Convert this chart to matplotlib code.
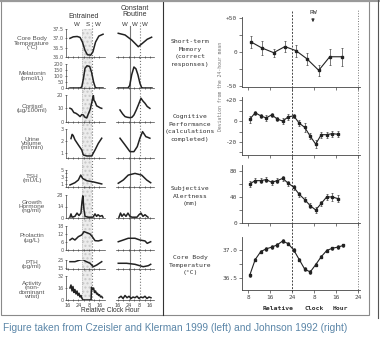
import numpy as np
import matplotlib.pyplot as plt
from matplotlib.patches import Rectangle
from matplotlib.lines import Line2D

W, H = 380, 344

# ── Left: Czeisler & Klerman 1999 (hours relative clock) ─────────
cbt_ent_h = [17.5, 20, 23, 25.2, 27, 29, 30.8, 33.3, 35, 37, 39.5, 42.7]
cbt_ent_v = [37.0, 37.08, 37.1, 37.05, 36.8, 36.35, 36.12, 36.1, 36.28, 36.8, 37.12, 37.22]
cbt_cr_h = [16.2, 21.3, 26.3, 31.3, 35, 38, 41.3]
cbt_cr_v = [37.27, 37.18, 36.91, 36.55, 36.77, 36.95, 37.06]

mel_ent_h = [17.5, 25, 26.5, 27.8, 29, 30.5, 32.5, 34, 35.5, 36.8, 38, 42.7]
mel_ent_v = [0, 0, 8, 80, 165, 185, 180, 130, 50, 5, 0, 0]
mel_cr_h = [16, 23.5, 24.8, 26.3, 28, 29.5, 31, 32.5, 33.8, 35, 41.6]
mel_cr_v = [0, 0, 20, 110, 175, 160, 110, 40, 3, 0, 0]

cort_ent_h = [17.5, 18.8, 20.5, 22, 23.5, 25.2, 26.5, 27.7, 29, 30.3, 31.5, 32.8,
              33.8, 34.5, 35.3, 35.8, 36.6, 37.8, 39.1, 40.5, 41.7]
cort_ent_v = [10.2, 9.6, 7, 6.5, 5.5, 4.0, 5.5, 5.2, 3.5, 3.0, 6, 9,
              13, 16, 20, 16, 15, 12, 11.3, 10.5, 10.1]
cort_cr_h = [17.5, 19.5, 21.3, 23, 25, 26.5, 28, 29.8, 31.3, 33.3, 34.8, 36.3, 38, 40]
cort_cr_v = [8.9, 6, 4, 3.5, 3.2, 3.5, 5.2, 9, 12.6, 17.6, 15.5, 13.9, 11.5, 10.1]

urine_ent_h = [18.3, 19.2, 20, 21.3, 23.9, 26.5, 27.7, 30.3, 34.1, 36.6, 39.1, 41.7]
urine_ent_v = [2.2, 2.55, 2.45, 2.1, 1.67, 1.25, 0.83, 0.75, 0.75, 1.25, 1.8, 2.23]
urine_cr_h = [17.5, 21.3, 25, 28, 30.5, 32.5, 34.5, 37, 38.5, 40]
urine_cr_v = [2.23, 1.67, 1.11, 1.11, 1.53, 2.23, 2.78, 2.36, 2.3, 2.23]

tsh_ent_h = [17.5, 21.3, 23.9, 25.7, 27.2, 30.3, 35.3, 41.7]
tsh_ent_v = [0.6, 1.26, 2.06, 3.5, 2.5, 1.85, 1.5, 0.9]
tsh_cr_h = [16.2, 20, 23.7, 28.8, 33.8, 37.6, 40.6]
tsh_cr_v = [1.1, 2.06, 3.5, 4.0, 3.5, 2.06, 1.26]

gh_ent_h = [17.5, 18.3, 19.1, 21.3, 22.9, 24.4, 25.9, 26.7, 27.3, 28.2, 29,
            31.3, 35.1, 36.6, 37.8, 38.9, 40.4, 42, 42.7]
gh_ent_v = [1, 5, 1, 2, 6, 3, 6, 20, 27, 10, 2, 1, 1, 5, 2, 4, 2, 3, 1]
gh_cr_h = [16.75, 17.9, 19, 20.5, 22, 23.5, 25, 26.5, 30.3, 31.8, 33.3, 34.8, 36.3, 37.8, 38.6]
gh_cr_v = [1, 6, 2, 5, 2, 6, 2, 1, 1, 4, 6, 2, 4, 2, 1]

prl_ent_h = [17.5, 19.3, 21.3, 23.9, 26.5, 28.2, 30.3, 32.8, 34.5, 36.6, 39.1, 41.7]
prl_ent_v = [7.5, 8.8, 7.5, 10, 11.3, 13.8, 13, 12, 10, 7, 6.8, 7.5]
prl_cr_h = [16.2, 20, 23.7, 28.8, 32.5, 36.3, 38, 40.6]
prl_cr_v = [6.2, 7.5, 8.8, 8.8, 7.5, 6.8, 5, 6.2]

pth_ent_h = [17.5, 21.3, 25.2, 27.5, 29, 32.8, 35.3, 37.9, 41.7]
pth_ent_v = [22.9, 22.9, 25, 25.5, 23.75, 20.9, 16.6, 18.75, 22.9]
pth_cr_h = [16.2, 22.5, 28.8, 35, 38.8, 40.6]
pth_cr_v = [20.9, 20.9, 19.6, 16.6, 17.9, 19.6]

act_ent_h = [17.5, 18.3, 19.1, 19.8, 20.6, 21.3, 22.1, 22.9, 23.6, 24.4, 25.2, 25.9,
             26.7, 27.5, 33.6, 33.9, 34.7, 35.5, 36.2, 37, 37.8, 38.5, 39.3, 40,
             40.8, 41.6, 42.3]
act_ent_v = [16, 20, 12, 18, 10, 14, 8, 12, 6, 9, 4, 6,
             2, 0, 0, 17, 14, 16, 10, 12, 8, 9, 6, 7,
             4, 5, 3]
act_cr_h = [16.75, 18.3, 19.8, 21.3, 22.8, 24.3, 25.8, 27.3, 28.8, 30.3, 31.8,
            33.3, 34.8, 36.3, 37.8, 39.3, 40.8]
act_cr_v = [3, 5, 2, 6, 3, 5, 2, 4, 3, 5, 2, 4, 3, 5, 2, 4, 3]

left_xticks = [16, 24, 32, 40]
left_xticklabels = ['16', '24', '8', '16']

# ── Right: Johnson 1992 ──────────────────────────────────────────
mem_h = [9, 13, 17.3, 21.4, 25.4, 29.4, 33.7, 37.7, 42]
mem_v = [15, 6, -1, 8, 2, -10, -27, -7, -7]
mem_e = [9, 10, 6, 8, 9, 9, 8, 12, 13]

cog_h = [8.6, 10.6, 12.6, 14.6, 16.6, 18.6, 20.6, 22.6, 24.6, 26.6, 28.6,
         30.6, 32.6, 34.6, 36.6, 38.6, 40.6]
cog_v = [1.6, 8, 5, 3, 6, 2, 0, 4, 5, -2, -6, -14.5, -22, -13, -13, -12, -12.6]
cog_e = [3, 2, 2, 3, 2, 2, 3, 3, 2, 3, 4, 3, 4, 3, 3, 3, 3]

alert_h = cog_h
alert_v = [60, 65, 65, 66.5, 62.5, 65, 68.5, 61, 55, 44, 36, 26.5, 20, 30, 40, 40, 37.5]
alert_e = [4, 4, 4, 4, 4, 4, 4, 4, 4, 4, 4, 4, 4, 4, 4, 6, 5]

temp_h = [8.6, 10.6, 12.6, 14.6, 16.6, 18.6, 20.6, 22.6, 24.6, 26.6, 28.6,
          30.6, 32.6, 34.6, 36.6, 38.6, 40.6, 42.6]
temp_v = [36.55, 36.83, 36.97, 37.02, 37.05, 37.09, 37.16, 37.11, 37.0, 36.83,
          36.66, 36.61, 36.74, 36.88, 36.99, 37.03, 37.05, 37.08]
temp_e = [0.03] * 18

right_xticks = [8, 16, 24, 32, 40, 48]
right_xticklabels = ['8', '16', '24', '8', '16', '24']

INK = '#222222'
GREY = '#555555'
SANS = 'Liberation Sans'
MONO = 'DejaVu Sans Mono'

fig = plt.figure(figsize=(W / 100, H / 100), dpi=100)
fig.patch.set_facecolor('white')


def box(x0, y0, x1, y1):
    return [x0 / W, 1 - y1 / H, (x1 - x0) / W, (y1 - y0) / H]


def fx(x):
    return x / W


def fy(y):
    return 1 - y / H


# ── Left panel layout ────────────────────────────────────────────
rows = [
    ('Core Body\nTemperature\n(°C)', 29, 57, (36.0, 37.5), [36.0, 36.5, 37.0, 37.5],
     ['36.0', '36.5', '37.0', '37.5'], cbt_ent_h, cbt_ent_v, cbt_cr_h, cbt_cr_v),
    ('Melatonin\n(pmol/L)', 64, 88, (0, 200), [0, 50, 100, 150, 200],
     ['0', '50', '100', '150', '200'], mel_ent_h, mel_ent_v, mel_cr_h, mel_cr_v),
    ('Cortisol\n(µg/100ml)', 95, 122, (0, 20), [0, 10, 20],
     ['0', '10', '20'], cort_ent_h, cort_ent_v, cort_cr_h, cort_cr_v),
    ('Urine\nVolume\n(ml/min)', 129, 158, (0.58, 3.0), [1, 2, 3],
     ['1', '2', '3'], urine_ent_h, urine_ent_v, urine_cr_h, urine_cr_v),
    ('TSH\n(mU/L)', 170, 187, (0, 5), [0, 1, 2, 3, 4, 5],
     ['', '1', '', '3', '', '5'], tsh_ent_h, tsh_ent_v, tsh_cr_h, tsh_cr_v),
    ('Growth\nHormone\n(ng/ml)', 195, 218, (0, 28), [0, 14, 28],
     ['0', '14', '28'], gh_ent_h, gh_ent_v, gh_cr_h, gh_cr_v),
    ('Prolactin\n(µg/L)', 226, 250, (0, 18), [0, 6, 12, 18],
     ['0', '6', '12', '18'], prl_ent_h, prl_ent_v, prl_cr_h, prl_cr_v),
    ('PTH\n(pg/ml)', 260, 269, (13.75, 25), [15, 25],
     ['15', '25'], pth_ent_h, pth_ent_v, pth_cr_h, pth_cr_v),
    ('Activity\n(non-\ndominant\nwrist)', 276, 300, (0, 32), [0, 16, 32],
     ['0', '16', '32'], act_ent_h, act_ent_v, act_cr_h, act_cr_v),
]

ENT_X = (66, 105)
CR_X = (116, 154)
XLIM_ENT = (14.5, 44.2)
XLIM_CR = (14.5, 43.1)

# background overlays: sleep band and reference lines
ov_e = fig.add_axes(box(ENT_X[0], 22, ENT_X[1], 300))
ov_e.set_xlim(*XLIM_ENT)
ov_e.set_ylim(0, 1)
ov_e.axis('off')
ov_e.axvspan(27, 34.5, ymin=0, ymax=(300 - 29) / 278, facecolor='#ececec',
             edgecolor='#c8c8c8', hatch='....', lw=0)
ov_e.axvline(27, ymax=(300 - 29) / 278, color='#aaaaaa', ls=':', lw=0.6)
ov_e.axvline(34.5, color='#777777', ls=':', lw=0.8)

ov_c = fig.add_axes(box(CR_X[0], 22, CR_X[1], 300))
ov_c.set_xlim(*XLIM_CR)
ov_c.set_ylim(0, 1)
ov_c.axis('off')
ov_c.axvline(25, ymax=(300 - 26) / 278, color='#777777', ls='-', lw=0.8)
ov_c.axvline(32.5, color='#777777', ls=':', lw=0.8)

for i, (lab, top, bot, ylim, yt, ytl, eh, ev, ch, cv) in enumerate(rows):
    last = i == len(rows) - 1
    for col, (x0, x1), xlim, hh, vv in [(0, ENT_X, XLIM_ENT, eh, ev),
                                        (1, CR_X, XLIM_CR, ch, cv)]:
        ax = fig.add_axes(box(x0, top, x1, bot))
        ax.patch.set_alpha(0)
        ax.plot(hh, vv, '-', color=INK, lw=1.1, solid_joinstyle='round')
        ax.set_xlim(*xlim)
        ax.set_ylim(*ylim)
        for s in ['top', 'right']:
            ax.spines[s].set_visible(False)
        ax.spines['bottom'].set_linewidth(0.5)
        ax.spines['bottom'].set_color('#444444')
        ax.set_xticks(np.arange(16, 44, 4))
        ax.tick_params(axis='x', direction='inout', length=2, width=0.5,
                       colors='#444444', labelsize=3.6, pad=1)
        if last:
            ax.set_xticks(left_xticks)
            ax.set_xticklabels(left_xticklabels)
            ax.set_xticks(np.arange(16, 44, 4), minor=True)
            ax.tick_params(axis='x', which='minor', direction='inout', length=2,
                           width=0.5, colors='#444444')
        else:
            ax.set_xticklabels([])
        if col == 0:
            ax.spines['left'].set_linewidth(0.5)
            ax.spines['left'].set_color('#444444')
            ax.set_yticks(yt)
            ax.set_yticklabels(ytl)
            ax.tick_params(axis='y', direction='inout', length=2, width=0.5,
                           colors='#555555', labelsize=3.6, pad=0.8)
        else:
            ax.spines['left'].set_visible(False)
            ax.set_yticks([])
    fig.text(fx(32), fy((top + bot) / 2 + (2 if last else 0)), lab,
             ha='center', va='center', fontsize=4.6, color=GREY,
             family=SANS, linespacing=0.85)

fig.text(fx(84), fy(16), 'Entrained', ha='center', va='center',
         fontsize=5, color='#333333', family=SANS)
fig.text(fx(135), fy(11.5), 'Constant\nRoutine', ha='center', va='center',
         fontsize=5, color='#333333', family=SANS, linespacing=0.8)
for x, s in [(77, 'W'), (88, 'S'), (98, 'W'), (125, 'W'), (135, 'W'), (145, 'W')]:
    fig.text(fx(x), fy(24.5), s, ha='center', va='center', fontsize=4.4,
             color='#333333', family=SANS)
fig.text(fx(110), fy(310), 'Relative Clock Hour', ha='center', va='center',
         fontsize=4.8, color='#333333', family=SANS)

# separator between the two source figures
fig.add_artist(Line2D([fx(163), fx(163)], [fy(0), fy(315)],
                      transform=fig.transFigure, color='#333333', lw=0.8))

# ── Right panel ─────────────────────────────────────────────────
RX = (242, 360)
RXLIM = (5.8, 48.7)

ov_r = fig.add_axes(box(RX[0], 8, RX[1], 292))
ov_r.set_xlim(*RXLIM)
ov_r.set_ylim(0, 1)
ov_r.axis('off')
ov_r.axvline(24, ymin=0, ymax=(292 - 10) / 284, color='#444444', ls=(0, (2, 1.5)), lw=0.7)
ov_r.axvline(48, ymin=0, ymax=(292 - 10) / 284, color='#777777', ls=':', lw=0.7)
ov_r.text(31.6, (292 - 12) / 284, 'RW', ha='center', va='center',
          fontsize=4.6, color='#333333', family=MONO)
ov_r.annotate('', xy=(31.6, (292 - 25) / 284), xytext=(31.6, (292 - 16) / 284),
              arrowprops=dict(arrowstyle='-|>', color='#333333', lw=0.7,
                              mutation_scale=4))

right_rows = [
    ('Short-term\nMemory\n(correct\nresponses)', 17, 87, (-51.5, 51.5),
     [-50, -25, 0, 25, 50], ['-50', '', '0', '', '+50'], mem_h, mem_v, mem_e, 53),
    ('Cognitive\nPerformance\n(calculations\ncompleted)', 97, 155, (-32.4, 23),
     [-30, -20, -10, 0, 10, 20], ['', '-20', '', '0', '', '+20'],
     cog_h, cog_v, cog_e, 128),
    ('Subjective\nAlertness\n(mm)', 165, 223, (0, 89),
     [0, 20, 40, 60, 80], ['0', '', '40', '', '80'], alert_h, alert_v, alert_e, 196),
    ('Core Body\nTemperature\n(°C)', 237, 290, (36.29, 37.23),
     [36.5, 36.75, 37.0], ['36.5', '', '37.0'], temp_h, temp_v, temp_e, 265),
]

for i, (lab, top, bot, ylim, yt, ytl, hh, vv, ee, ly) in enumerate(right_rows):
    last = i == len(right_rows) - 1
    ax = fig.add_axes(box(RX[0], top, RX[1], bot))
    ax.patch.set_alpha(0)
    ax.errorbar(hh, vv, yerr=ee, fmt='-s', color=INK, lw=0.8, ms=1.7,
                elinewidth=0.5, capsize=1.0, capthick=0.5, ecolor='#444444')
    ax.set_xlim(*RXLIM)
    ax.set_ylim(*ylim)
    for s in ['top', 'right']:
        ax.spines[s].set_visible(False)
    for s in ['left', 'bottom']:
        ax.spines[s].set_linewidth(0.6)
        ax.spines[s].set_color('#444444')
    ax.set_yticks(yt)
    ax.set_yticklabels(ytl)
    ax.set_xticks(right_xticks)
    if last:
        ax.set_xticklabels(right_xticklabels)
    else:
        ax.set_xticklabels([])
    ax.tick_params(axis='both', direction='out', length=2, width=0.5,
                   colors='#444444', labelsize=4.4, pad=1.5)
    for t in ax.get_xticklabels() + ax.get_yticklabels():
        t.set_family(MONO)
    fig.text(fx(190), fy(ly), lab, ha='center', va='center', fontsize=4.6,
             color='#333333', family=MONO, linespacing=1.6)

fig.text(fx(220), fy(86), 'Deviation from the 24-hour mean', rotation=90,
         ha='center', va='center', fontsize=3.4, color='#777777', family=MONO)
for x, s in [(278.5, 'Relative'), (314, 'Clock'), (340, 'Hour')]:
    fig.text(fx(x), fy(308), s, ha='center', va='center', fontsize=4.6,
             color='#333333', family=MONO, fontweight='bold')

# ── Frame and caption ────────────────────────────────────────────
fig.add_artist(Rectangle((fx(0.5), fy(315)), fx(368), 315 / H - 1 / H,
                         transform=fig.transFigure, fill=False,
                         edgecolor='#8a8a8a', lw=0.8))
fig.add_artist(Line2D([fx(0), fx(380)], [fy(0.8), fy(0.8)],
                      transform=fig.transFigure, color='#9a9a9a', lw=1.5))
fig.add_artist(Line2D([fx(378), fx(378)], [fy(0), fy(318)],
                      transform=fig.transFigure, color='#555555', lw=0.8))
fig.text(fx(3), fy(328),
         'Figure taken from Czeisler and Klerman 1999 (left) and Johnson 1992 (right)',
         ha='left', va='center', fontsize=7.3, color='#5b86a8', family=SANS)

fig.savefig('out.png', dpi=100, facecolor='white')
